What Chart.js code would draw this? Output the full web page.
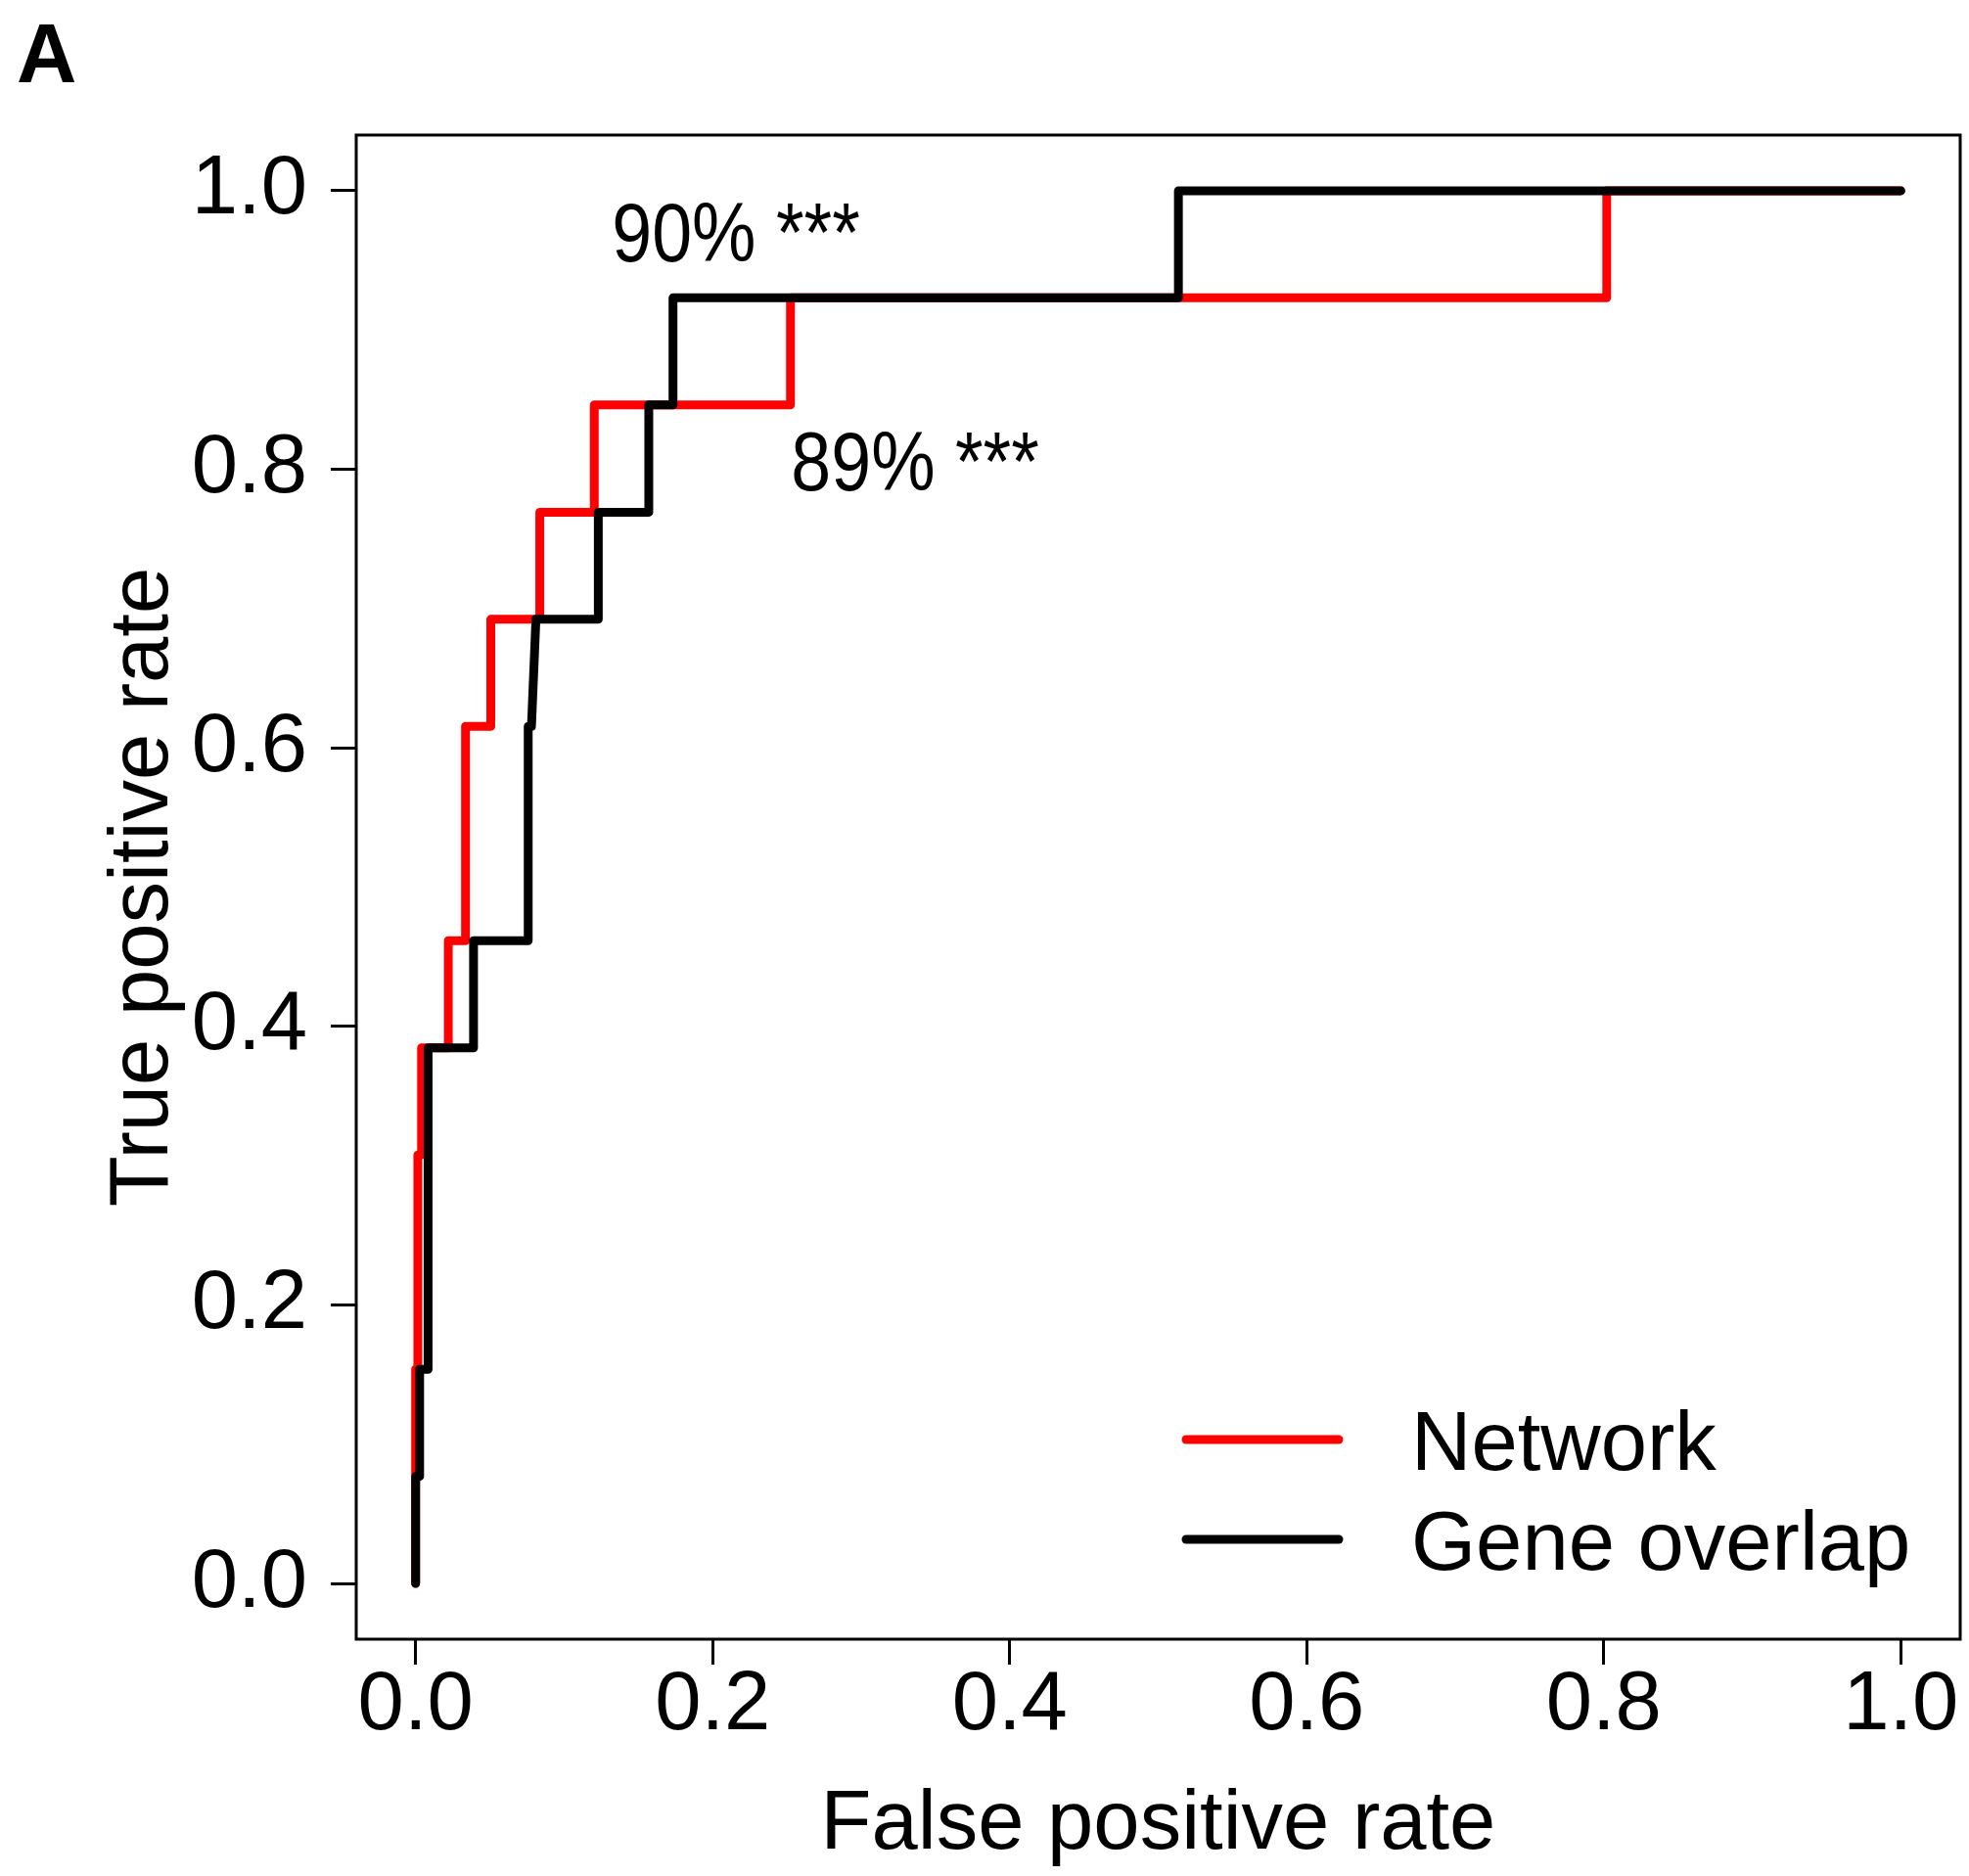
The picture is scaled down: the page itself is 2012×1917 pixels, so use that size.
<!DOCTYPE html>
<html>
<head>
<meta charset="utf-8">
<script src="https://cdn.jsdelivr.net/npm/chart.js@4/dist/chart.umd.min.js"></script>
<style>
  html, body { margin: 0; padding: 0; background: #fff; }
  canvas { display: block; }
</style>
</head>
<body>
<canvas id="roc" width="2012" height="1917"></canvas>
<script>
// ROC curve values (TPR steps are k/13)
var networkFpr = [0, 0, 0.0015, 0.0015, 0.004, 0.004, 0.022, 0.022, 0.0336, 0.0336, 0.0506, 0.0506, 0.0836, 0.0836, 0.1203, 0.1203, 0.2524, 0.2524, 0.802, 0.802, 1];
var networkTpr = [0, 0.1538, 0.1538, 0.3077, 0.3077, 0.3846, 0.3846, 0.4615, 0.4615, 0.6154, 0.6154, 0.6923, 0.6923, 0.7692, 0.7692, 0.8462, 0.8462, 0.9231, 0.9231, 1, 1];

var overlapFpr = [0, 0, 0.0027, 0.0027, 0.0084, 0.0084, 0.039, 0.039, 0.0758, 0.0758, 0.078, 0.081, 0.123, 0.123, 0.157, 0.157, 0.1733, 0.1733, 0.5136, 0.5136, 1];
var overlapTpr = [0, 0.0769, 0.0769, 0.1538, 0.1538, 0.3846, 0.3846, 0.4615, 0.4615, 0.6154, 0.6154, 0.6923, 0.6923, 0.7692, 0.7692, 0.8462, 0.8462, 0.9231, 0.9231, 1, 1];

var seriesNames = ['Network', 'Gene overlap'];
var seriesColors = ['#ff0000', '#000000'];

var xTicks = [0, 0.2, 0.4, 0.6, 0.8, 1.0];
var yTicks = [0, 0.2, 0.4, 0.6, 0.8, 1.0];

// AUC labels, anchored in data units (centre x, middle y)
var aucText = ['90% ***', '89% ***'];
var aucX = [0.2157, 0.3363];
var aucY = [0.966, 0.8014];
var aucSpan = 0.167;   // text width, in x data units

var FONT = '"Liberation Sans", Arial, Helvetica, sans-serif';

function toPoints(xs, ys) {
    var pts = [];
    for (var i = 0; i < xs.length; i++) pts.push({ x: xs[i], y: ys[i] });
    return pts;
}

// box around the plot, AUC text, legend and panel letter
var extras = {
    id: 'extras',
    afterDraw: function (chart) {
        var ctx = chart.ctx;
        var a = chart.chartArea;
        var xs = chart.scales.x, ys = chart.scales.y;
        ctx.save();

        ctx.strokeStyle = '#000';
        ctx.lineWidth = 3;
        ctx.strokeRect(a.left, a.top, a.right - a.left, a.bottom - a.top);

        ctx.fillStyle = '#000';
        ctx.font = '85px ' + FONT;
        ctx.textAlign = 'center';
        ctx.textBaseline = 'middle';
        var maxW = xs.getPixelForValue(aucSpan) - xs.getPixelForValue(0);
        for (var i = 0; i < aucText.length; i++) {
            ctx.fillText(aucText[i], xs.getPixelForValue(aucX[i]), ys.getPixelForValue(aucY[i]), maxW);
        }

        // legend, bottom right
        ctx.textAlign = 'left';
        ctx.textBaseline = 'alphabetic';
        ctx.lineCap = 'round';
        ctx.lineWidth = 9;
        var rows = [a.bottom - 204, a.bottom - 102];
        for (var j = 0; j < seriesNames.length; j++) {
            ctx.strokeStyle = seriesColors[j];
            ctx.beginPath();
            ctx.moveTo(a.right - 791, rows[j]);
            ctx.lineTo(a.right - 635, rows[j]);
            ctx.stroke();
            ctx.fillText(seriesNames[j], a.right - 561, rows[j] + 31);
        }

        ctx.font = 'bold 85px ' + FONT;
        ctx.fillText('A', 17, 84);
        ctx.restore();
    }
};

window.addEventListener('load', function () {
    var canvas = document.getElementById('roc');
    if (!canvas) return;

    var tickFont = { family: FONT, size: 85 };

    new Chart(canvas.getContext('2d'), {
        type: 'scatter',
        data: {
            datasets: [
                {
                    label: seriesNames[0],
                    data: toPoints(networkFpr, networkTpr),
                    showLine: true,
                    borderColor: seriesColors[0],
                    borderWidth: 9,
                    borderCapStyle: 'round',
                    borderJoinStyle: 'round',
                    pointRadius: 0,
                    tension: 0,
                    order: 1
                },
                {
                    label: seriesNames[1],
                    data: toPoints(overlapFpr, overlapTpr),
                    showLine: true,
                    borderColor: seriesColors[1],
                    borderWidth: 9,
                    borderCapStyle: 'round',
                    borderJoinStyle: 'round',
                    pointRadius: 0,
                    tension: 0,
                    order: 0
                }
            ]
        },
        options: {
            responsive: false,
            devicePixelRatio: 1,
            animation: false,
            layout: { padding: { top: 138, right: 9, left: 0, bottom: 0 } },
            plugins: {
                legend: { display: false },
                tooltip: { enabled: false }
            },
            scales: {
                x: {
                    type: 'linear',
                    min: -0.04,
                    max: 1.04,
                    afterBuildTicks: function (s) { s.ticks = xTicks.map(function (v) { return { value: v }; }); },
                    afterFit: function (s) { s.height = 242; },
                    ticks: {
                        color: '#000',
                        font: tickFont,
                        padding: -8,
                        maxRotation: 0,
                        autoSkip: false,
                        callback: function (v) { return v.toFixed(1); }
                    },
                    grid: { drawOnChartArea: false, drawTicks: true, tickLength: 26, color: '#000', lineWidth: 3 },
                    border: { display: false },
                    title: {
                        display: true,
                        text: 'False positive rate',
                        color: '#000',
                        font: tickFont,
                        padding: { top: 0, bottom: 0 }
                    }
                },
                y: {
                    type: 'linear',
                    min: -0.04,
                    max: 1.04,
                    afterBuildTicks: function (s) { s.ticks = yTicks.map(function (v) { return { value: v }; }); },
                    afterFit: function (s) { s.width = 364; },
                    ticks: {
                        color: '#000',
                        font: tickFont,
                        padding: 24,
                        autoSkip: false,
                        callback: function (v) { return v.toFixed(1); }
                    },
                    grid: { drawOnChartArea: false, drawTicks: true, tickLength: 26, color: '#000', lineWidth: 3 },
                    border: { display: false },
                    title: {
                        display: true,
                        text: 'True positive rate',
                        color: '#000',
                        font: tickFont,
                        padding: { top: 97, bottom: 0 }
                    }
                }
            }
        },
        plugins: [extras]
    });
});
</script>
</body>
</html>
